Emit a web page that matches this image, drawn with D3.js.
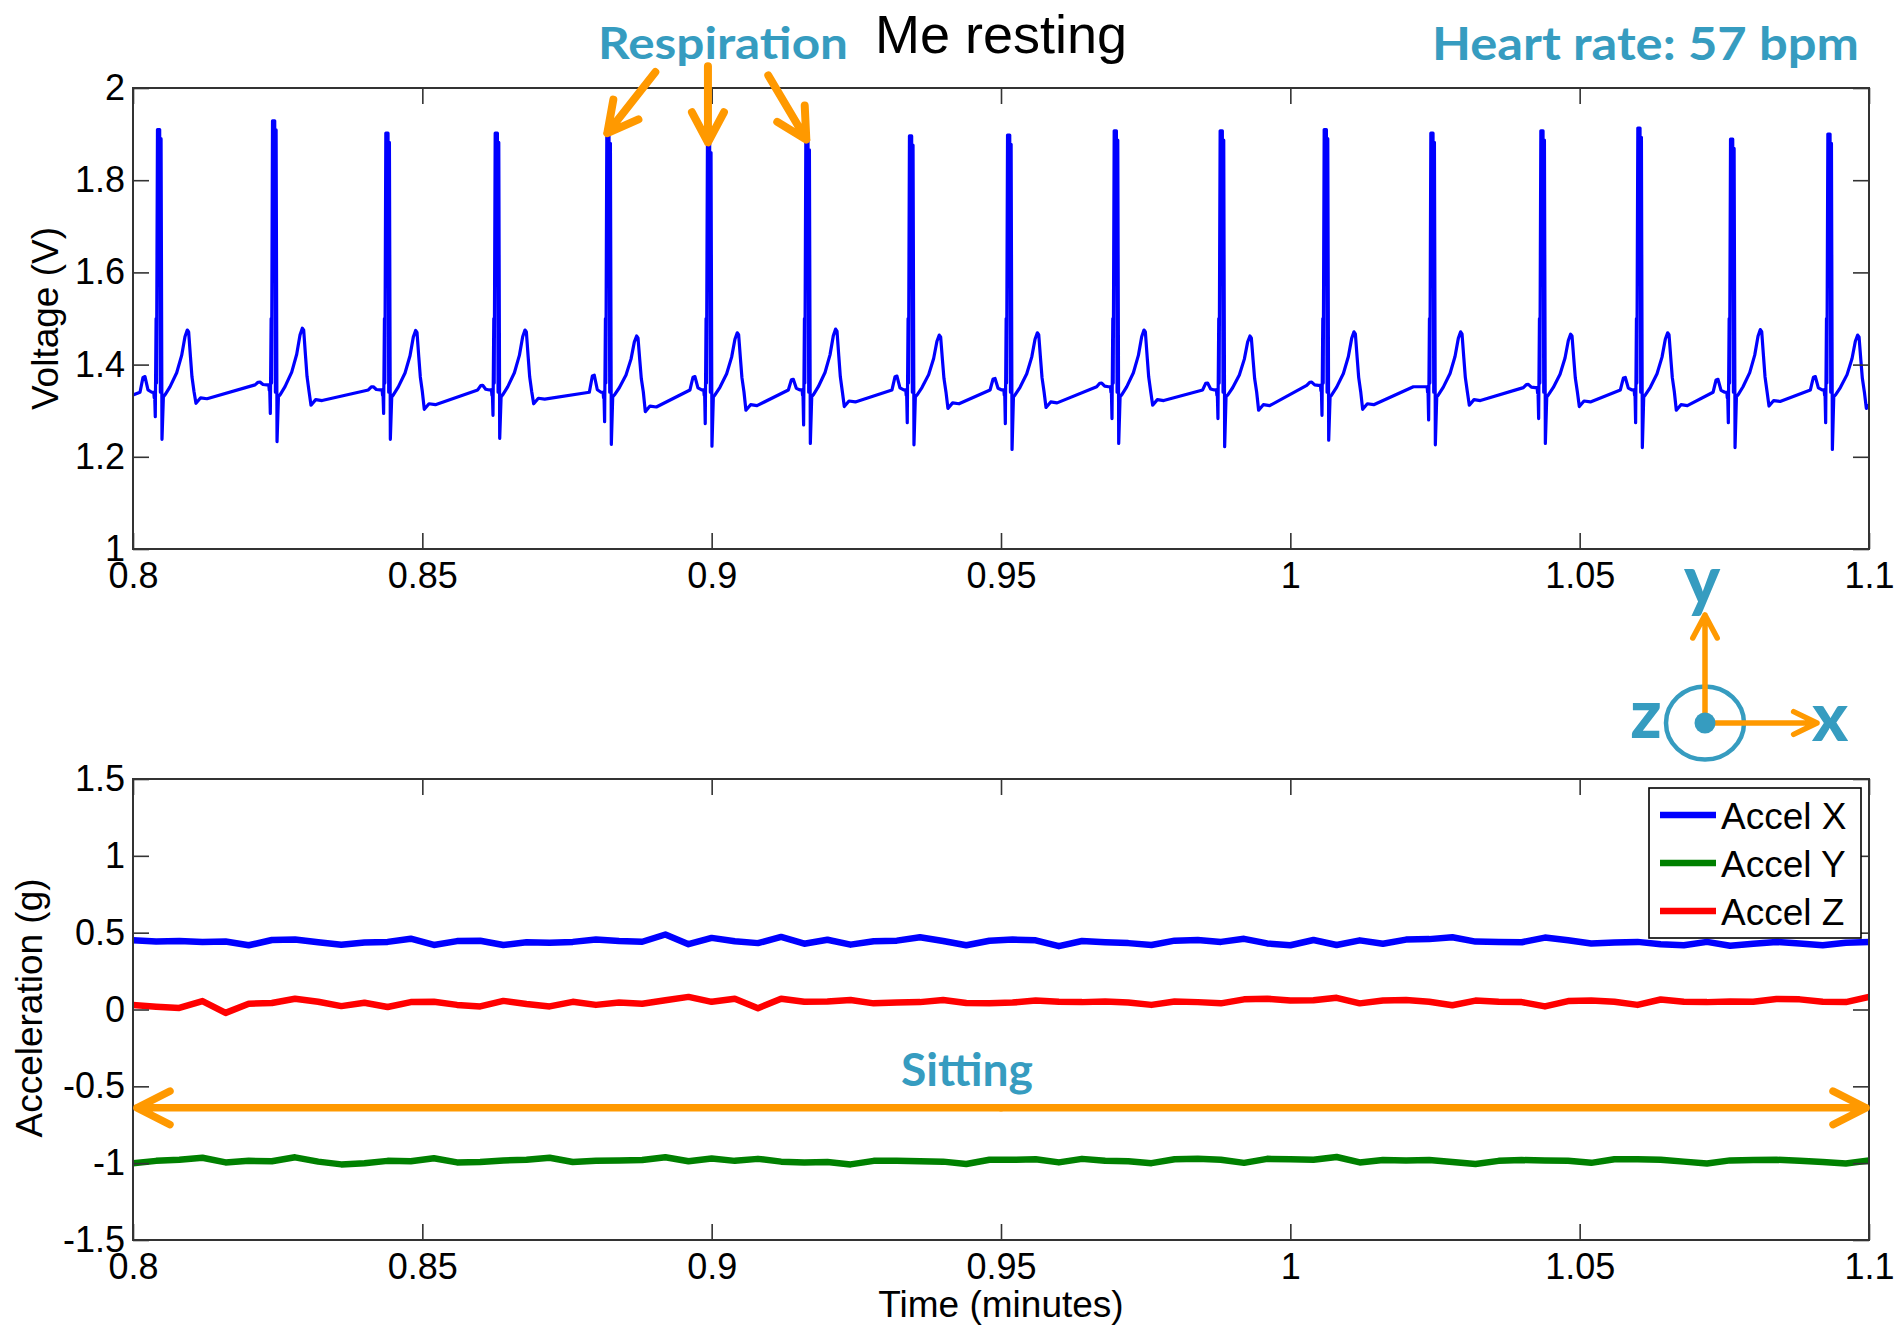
<!DOCTYPE html>
<html><head><meta charset="utf-8">
<script src="https://cdn.jsdelivr.net/npm/d3@7"></script>
<style>body{margin:0;background:#fff}svg{display:block}</style>
</head><body>
<svg id="c" width="1897" height="1327"></svg>
<script>
// ---------------- DATA ----------------
const xTickValues = [0.8, 0.85, 0.9, 0.95, 1, 1.05, 1.1];
const xTickLabels = ["0.8", "0.85", "0.9", "0.95", "1", "1.05", "1.1"];
const voltTickValues = [1, 1.2, 1.4, 1.6, 1.8, 2];
const voltTickLabels = ["1", "1.2", "1.4", "1.6", "1.8", "2"];
const accTickValues = [-1.5, -1, -0.5, 0, 0.5, 1, 1.5];
const accTickLabels = ["-1.5", "-1", "-0.5", "0", "0.5", "1", "1.5"];

// ECG beats (time in minutes of each R peak, and voltages of the beat landmarks)
const beatR        = [0.80449, 0.82437, 0.84395, 0.86285, 0.88214, 0.89953, 0.91653, 0.93444, 0.95139, 0.96982, 0.98813, 1.00611, 1.02454, 1.04355, 1.06031, 1.07633, 1.09315];
const beatRPeak    = [1.910, 1.929, 1.902, 1.902, 1.900, 1.880, 1.886, 1.896, 1.898, 1.907, 1.907, 1.910, 1.902, 1.907, 1.913, 1.889, 1.900];
const beatSTrough  = [1.238, 1.233, 1.238, 1.240, 1.227, 1.223, 1.229, 1.226, 1.216, 1.229, 1.222, 1.236, 1.226, 1.229, 1.220, 1.220, 1.216];
const beatQTrough  = [1.287, 1.294, 1.294, 1.290, 1.276, 1.272, 1.269, 1.274, 1.272, 1.283, 1.283, 1.290, 1.280, 1.283, 1.274, 1.274, 1.274];
const beatTPeak    = [1.475, 1.479, 1.474, 1.475, 1.462, 1.469, 1.477, 1.464, 1.469, 1.475, 1.462, 1.471, 1.471, 1.466, 1.469, 1.476, 1.464];
const beatTEnd     = [1.316, 1.312, 1.303, 1.315, 1.298, 1.301, 1.309, 1.305, 1.307, 1.312, 1.301, 1.303, 1.312, 1.309, 1.301, 1.310, 1.305];
const beatPreBase  = [1.340, 1.356, 1.345, 1.345, 1.340, 1.345, 1.345, 1.345, 1.345, 1.352, 1.345, 1.355, 1.352, 1.350, 1.345, 1.340, 1.345];
const beatPPeak    = [1.374, 1.362, 1.352, 1.355, 1.377, 1.374, 1.368, 1.375, 1.370, 1.360, 1.360, 1.362, 1.352, 1.357, 1.372, 1.368, 1.374];
const ecgStart = [0.8, 1.334];
// shape of one beat read from the first complex: [offset from R (min), value or fraction]
const pWaveShape = [[-0.00328, 0], [-0.00276, 0.95], [-0.00242, 1], [-0.00190, 0.15], [-0.00125, 0], [-0.00090, 0], [-0.00082, -0.4], [-0.00076, 0]];
const qrsShape   = [[-0.00064, "Q"], [-0.00050, 1.50], [-0.00043, 1.36], [-0.00026, "R"], [0.00012, "R"], [0.00024, 1.34], [0.00036, "R2"], [0.00052, "S"], [0.00076, 1.33]];
const tWaveShape = [[0.00104, 0.03], [0.0019, 0.15], [0.00306, 0.36], [0.00392, 0.62], [0.00449, 0.9], [0.00489, 1], [0.00513, 0.97], [0.00544, 0.6], [0.0057, 0.3], [0.00605, 0.08]];
const postTShape = [[0.00639, 0], [0.0072, 0.012], [0.0083, 0.010]];

// Accelerometer, sampled every 0.004 min from 0.8 to 1.1
const accelStart = 0.8, accelStep = 0.004;
const accelX = [0.450, 0.443, 0.446, 0.440, 0.442, 0.418, 0.452, 0.455, 0.437, 0.422,
  0.436, 0.440, 0.461, 0.420, 0.445, 0.447, 0.420, 0.438, 0.434, 0.440,
  0.455, 0.446, 0.441, 0.488, 0.425, 0.466, 0.444, 0.432, 0.472, 0.428,
  0.454, 0.422, 0.444, 0.448, 0.470, 0.446, 0.418, 0.447,
  0.455, 0.450, 0.412, 0.446, 0.438, 0.432, 0.420, 0.448, 0.452, 0.440,
  0.460, 0.430, 0.418, 0.452, 0.420, 0.450, 0.428, 0.455, 0.458, 0.470,
  0.442, 0.440, 0.438, 0.468, 0.450, 0.430, 0.436, 0.440, 0.425, 0.418,
  0.440, 0.415, 0.428, 0.440, 0.430, 0.418, 0.435, 0.440];
const accelY = [-1.000, -0.985, -0.978, -0.965, -0.995, -0.985, -0.988, -0.962, -0.990, -1.008,
  -1.000, -0.985, -0.988, -0.968, -0.995, -0.992, -0.982, -0.978, -0.965, -0.992,
  -0.985, -0.982, -0.980, -0.962, -0.988, -0.970, -0.985, -0.972, -0.990, -0.995,
  -0.992, -1.008, -0.985, -0.985, -0.988, -0.990, -1.005, -0.978,
  -0.978, -0.975, -0.995, -0.972, -0.985, -0.988, -1.000, -0.975, -0.972, -0.978,
  -0.998, -0.972, -0.975, -0.978, -0.960, -0.995, -0.980, -0.982, -0.980, -0.992,
  -1.005, -0.985, -0.980, -0.982, -0.985, -0.998, -0.975, -0.975, -0.978, -0.990,
  -1.002, -0.982, -0.980, -0.978, -0.985, -0.992, -1.002, -0.982];
const accelZ = [0.029, 0.018, 0.010, 0.055, -0.022, 0.038, 0.042, 0.070, 0.050, 0.022,
  0.044, 0.016, 0.048, 0.050, 0.030, 0.020, 0.056, 0.036, 0.020, 0.050,
  0.030, 0.045, 0.038, 0.060, 0.082, 0.050, 0.070, 0.008, 0.070, 0.050,
  0.052, 0.062, 0.040, 0.046, 0.048, 0.062, 0.042, 0.040,
  0.045, 0.058, 0.050, 0.048, 0.052, 0.046, 0.030, 0.052, 0.048, 0.040,
  0.066, 0.070, 0.058, 0.060, 0.076, 0.040, 0.058, 0.062, 0.050, 0.028,
  0.058, 0.050, 0.048, 0.020, 0.055, 0.058, 0.050, 0.030, 0.065, 0.050,
  0.048, 0.052, 0.050, 0.068, 0.066, 0.050, 0.048, 0.082];
const accelSeries = ["Accel X", "Accel Y", "Accel Z"];
const accelColors = ["#0000FF", "#008000", "#FF0000"];

// respiration arrows point at these beats
const respirationBeats = [4, 5, 6];
const sittingLevel = -0.64;

// ---------------- LAYOUT ----------------
const svg = d3.select("#c");
const L = 133, R = 1869;
const topT = 88, topB = 549, botT = 779, botB = 1240;
const TEAL = "#369CC0", ORANGE = "#FF9900";
const FONT = "'Liberation Sans', Arial, Helvetica, sans-serif";
const AFONT = "Lato, 'Open Sans', sans-serif";

const x = d3.scaleLinear().domain([0.8, 1.1]).range([L, R]);
const yV = d3.scaleLinear().domain([1, 2]).range([topB, topT]);
const yA = d3.scaleLinear().domain([-1.5, 1.5]).range([botB, botT]);

const defs = svg.append("defs");
defs.append("clipPath").attr("id", "clipTop").append("rect").attr("x", L).attr("y", topT).attr("width", R - L).attr("height", topB - topT);
defs.append("clipPath").attr("id", "clipBot").append("rect").attr("x", L).attr("y", botT).attr("width", R - L).attr("height", botB - botT);

// ---------------- ECG ----------------
const ecgPoints = [ecgStart.slice()];
beatR.forEach((tR, i) => {
  const pre = beatPreBase[i];
  pWaveShape.forEach(([o, f]) => ecgPoints.push([tR + o, f < 0 ? pre + f * 0.03 : pre + f * (beatPPeak[i] - pre)]));
  qrsShape.forEach(([o, v]) => {
    let val = v;
    if (v === "Q") val = beatQTrough[i];
    else if (v === "R") val = beatRPeak[i];
    else if (v === "R2") val = beatRPeak[i] - 0.02;
    else if (v === "S") val = beatSTrough[i];
    ecgPoints.push([tR + o, val]);
  });
  tWaveShape.forEach(([o, f]) => ecgPoints.push([tR + o, 1.33 + f * (beatTPeak[i] - 1.33)]));
  postTShape.forEach(([o, d]) => ecgPoints.push([tR + o, beatTEnd[i] + d]));
});

svg.append("path")
  .datum(ecgPoints)
  .attr("clip-path", "url(#clipTop)")
  .attr("fill", "none")
  .attr("stroke", "#0000FF")
  .attr("stroke-width", 3.2)
  .attr("stroke-linejoin", "round")
  .attr("d", d3.line().x(d => x(d[0])).y(d => yV(d[1])));

// ---------------- ACCEL ----------------
const accLine = d3.line().x((d, i) => x(accelStart + i * accelStep)).y(d => yA(d));
[accelX, accelY, accelZ].forEach((s, k) => {
  svg.append("path").datum(s)
    .attr("clip-path", "url(#clipBot)")
    .attr("fill", "none")
    .attr("stroke", accelColors[k])
    .attr("stroke-width", 6.5)
    .attr("stroke-linejoin", "round")
    .attr("d", accLine);
});

// ---------------- AXES ----------------
function drawAxes(yScale, yTicks, yLabels, top, bottom) {
  const g = svg.append("g");
  g.append("g").attr("transform", `translate(0,${bottom})`)
    .call(d3.axisBottom(x).tickValues(xTickValues).tickFormat(d => xTickLabels[xTickValues.indexOf(d)])
      .tickSizeInner(-16).tickSizeOuter(0).tickPadding(13));
  g.append("g").attr("transform", `translate(0,${top})`)
    .call(d3.axisTop(x).tickValues(xTickValues).tickFormat("").tickSizeInner(-16).tickSizeOuter(0));
  g.append("g").attr("transform", `translate(${L},0)`)
    .call(d3.axisLeft(yScale).tickValues(yTicks).tickFormat(d => yLabels[yTicks.indexOf(d)])
      .tickSizeInner(-16).tickSizeOuter(0).tickPadding(8));
  g.append("g").attr("transform", `translate(${R},0)`)
    .call(d3.axisRight(yScale).tickValues(yTicks).tickFormat("").tickSizeInner(-16).tickSizeOuter(0));
  g.selectAll(".domain").remove();
  g.selectAll(".tick line").attr("stroke", "#333").attr("stroke-width", 1.6);
  g.selectAll(".tick text").attr("font-family", FONT).attr("font-size", 36).attr("fill", "#000");
  g.append("rect").attr("x", L).attr("y", top).attr("width", R - L).attr("height", bottom - top)
    .attr("fill", "none").attr("stroke", "#333").attr("stroke-width", 2);
}
drawAxes(yV, voltTickValues, voltTickLabels, topT, topB);
drawAxes(yA, accTickValues, accTickLabels, botT, botB);

// axis labels and title
svg.append("text").attr("x", (L + R) / 2).attr("y", 53).attr("text-anchor", "middle")
  .attr("font-family", FONT).attr("font-size", 54).text("Me resting");
svg.append("text").attr("transform", `translate(58,${(topT + topB) / 2}) rotate(-90)`).attr("text-anchor", "middle")
  .attr("font-family", FONT).attr("font-size", 37).text("Voltage (V)");
svg.append("text").attr("transform", `translate(42,1008) rotate(-90)`).attr("text-anchor", "middle")
  .attr("font-family", FONT).attr("font-size", 37).text("Acceleration (g)");
svg.append("text").attr("x", (L + R) / 2).attr("y", 1317).attr("text-anchor", "middle")
  .attr("font-family", FONT).attr("font-size", 37).text("Time (minutes)");

// ---------------- LEGEND ----------------
const lg = svg.append("g");
lg.append("rect").attr("x", 1649).attr("y", 788).attr("width", 212).attr("height", 150)
  .attr("fill", "#fff").attr("stroke", "#000").attr("stroke-width", 1.6);
accelSeries.forEach((name, k) => {
  const yy = 815 + k * 48;
  lg.append("line").attr("x1", 1660).attr("x2", 1716).attr("y1", yy).attr("y2", yy)
    .attr("stroke", accelColors[k]).attr("stroke-width", 6.5);
  lg.append("text").attr("x", 1721).attr("y", yy + 13.5).attr("font-family", FONT)
    .attr("font-size", 37).text(name);
});

// ---------------- ANNOTATIONS ----------------
function arrow(g, x1, y1, x2, y2, len, angDeg, color, w) {
  const a = Math.atan2(y1 - y2, x1 - x2), da = angDeg * Math.PI / 180;
  const ax1 = x2 + len * Math.cos(a + da), ay1 = y2 + len * Math.sin(a + da);
  const ax2 = x2 + len * Math.cos(a - da), ay2 = y2 + len * Math.sin(a - da);
  g.append("path").attr("d", `M${x1},${y1}L${x2},${y2}M${ax1},${ay1}L${x2},${y2}L${ax2},${ay2}`)
    .attr("fill", "none").attr("stroke", color).attr("stroke-width", w)
    .attr("stroke-linecap", "round").attr("stroke-linejoin", "round");
}
const ann = svg.append("g");
ann.append("text").attr("x", 598).attr("y", 59).attr("font-family", AFONT).attr("font-weight", 700)
  .attr("font-size", 44).attr("fill", TEAL).attr("textLength", 250).attr("lengthAdjust", "spacingAndGlyphs").text("Respiration");
ann.append("text").attr("x", 1432).attr("y", 60).attr("font-family", AFONT).attr("font-weight", 700)
  .attr("font-size", 45).attr("fill", TEAL).attr("textLength", 427).attr("lengthAdjust", "spacingAndGlyphs").text("Heart rate: 57 bpm");

const tailOffsets = [[48, -61], [0, -76], [-38, -64]];
respirationBeats.forEach((b, k) => {
  const tx = x(beatR[b]) - 1, ty = yV(beatRPeak[b]) - 1;
  arrow(ann, tx + tailOffsets[k][0], ty + tailOffsets[k][1], tx, ty, 34, 28, ORANGE, 8);
});

// Sitting double arrow
const sy = yA(sittingLevel);
arrow(ann, x(0.95), sy, x(0.8) + 4, sy, 37, 27, ORANGE, 7.5);
arrow(ann, x(0.95), sy, x(1.1) - 3, sy, 37, 27, ORANGE, 7.5);
ann.append("text").attr("x", 901).attr("y", 1086).attr("font-family", AFONT).attr("font-weight", 700)
  .attr("font-size", 45).attr("fill", TEAL).attr("textLength", 132).attr("lengthAdjust", "spacingAndGlyphs").text("Sitting");

// orientation icon
const cx = 1705, cy = 723;
ann.append("ellipse").attr("cx", cx).attr("cy", cy).attr("rx", 39).attr("ry", 36.5)
  .attr("fill", "none").attr("stroke", TEAL).attr("stroke-width", 4.5);
arrow(ann, cx, cy, cx, 615, 26, 28, ORANGE, 5.5);
arrow(ann, cx, cy, 1817, cy, 26, 26, ORANGE, 5.5);
ann.append("circle").attr("cx", cx).attr("cy", cy).attr("r", 10.5).attr("fill", TEAL);
[["y", 1702, 604], ["z", 1646, 738], ["x", 1830, 741]].forEach(([t, lx, ly]) => {
  ann.append("text").attr("x", lx).attr("y", ly).attr("text-anchor", "middle").attr("font-family", AFONT)
    .attr("font-weight", 900).attr("font-size", 68).attr("fill", TEAL).text(t);
});
</script>
</body></html>
